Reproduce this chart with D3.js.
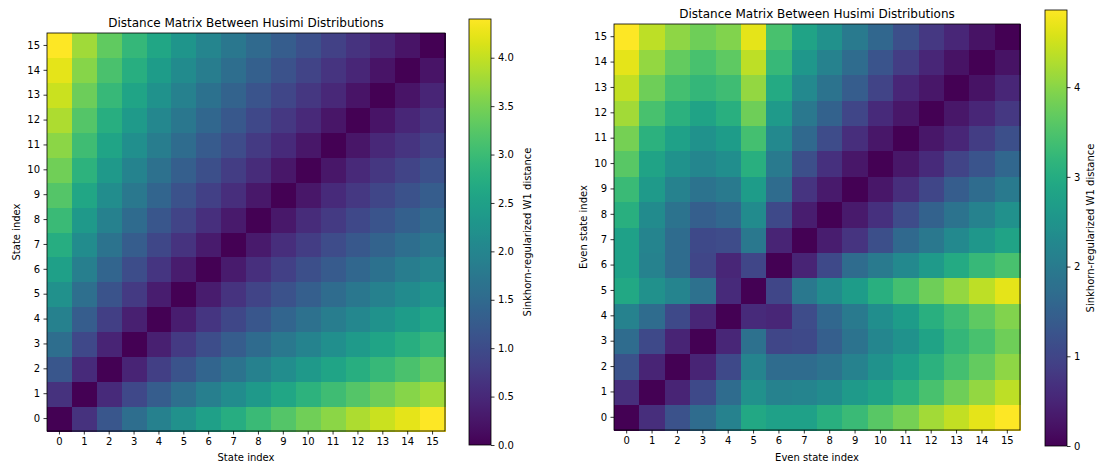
<!DOCTYPE html>
<html><head><meta charset="utf-8">
<script src="https://cdn.jsdelivr.net/npm/d3@7"></script>
<style>
body{margin:0;background:#fff}
svg{display:block}
text{font-family:"DejaVu Sans",sans-serif;fill:#000}
</style>
</head><body>
<svg id="chart" width="1097" height="464"></svg>
<script>
// ---------------- data ----------------
const stateLabels = ["0","1","2","3","4","5","6","7","8","9","10","11","12","13","14","15"];
const leftTicks = [0.0, 0.5, 1.0, 1.5, 2.0, 2.5, 3.0, 3.5, 4.0];
const rightTicks = [0, 1, 2, 3, 4];
const titleText = "Distance Matrix Between Husimi Distributions";
const colorbarLabel = "Sinkhorn-regularized W1 distance";
const leftAxisLabel = "State index";
const rightAxisLabel = "Even state index";

// rows = state index (y, 0 at bottom), columns = state index (x)
const leftMatrix = [
 [0.00,0.62,1.18,1.57,1.91,2.21,2.49,2.74,2.99,3.22,3.44,3.64,3.85,4.04,4.22,4.40],
 [0.62,0.00,0.52,0.95,1.28,1.59,1.88,2.13,2.37,2.61,2.82,3.03,3.23,3.42,3.60,3.78],
 [1.18,0.52,0.00,0.44,0.82,1.13,1.41,1.67,1.91,2.14,2.36,2.57,2.76,2.95,3.14,3.32],
 [1.57,0.95,0.44,0.00,0.39,0.74,1.02,1.28,1.52,1.76,1.97,2.18,2.38,2.57,2.75,2.93],
 [1.91,1.28,0.82,0.39,0.00,0.36,0.68,0.94,1.18,1.41,1.63,1.84,2.04,2.23,2.42,2.60],
 [2.21,1.59,1.13,0.74,0.36,0.00,0.33,0.64,0.88,1.11,1.32,1.54,1.74,1.92,2.11,2.29],
 [2.49,1.88,1.41,1.02,0.68,0.33,0.00,0.31,0.60,0.83,1.05,1.25,1.45,1.65,1.84,2.01],
 [2.74,2.13,1.67,1.28,0.94,0.64,0.31,0.00,0.30,0.57,0.79,1.00,1.19,1.39,1.57,1.75],
 [2.99,2.37,1.91,1.52,1.18,0.88,0.60,0.30,0.00,0.28,0.54,0.75,0.96,1.14,1.33,1.51],
 [3.22,2.61,2.14,1.76,1.41,1.11,0.83,0.57,0.28,0.00,0.27,0.52,0.72,0.92,1.11,1.28],
 [3.44,2.82,2.36,1.97,1.63,1.32,1.05,0.79,0.54,0.27,0.00,0.26,0.50,0.70,0.88,1.07],
 [3.64,3.03,2.57,2.18,1.84,1.54,1.25,1.00,0.75,0.52,0.26,0.00,0.25,0.49,0.67,0.85],
 [3.85,3.23,2.76,2.38,2.04,1.74,1.45,1.19,0.96,0.72,0.50,0.25,0.00,0.24,0.47,0.65],
 [4.04,3.42,2.95,2.57,2.23,1.92,1.65,1.39,1.14,0.92,0.70,0.49,0.24,0.00,0.24,0.46],
 [4.22,3.60,3.14,2.75,2.42,2.11,1.84,1.57,1.33,1.11,0.88,0.67,0.47,0.24,0.00,0.23],
 [4.40,3.78,3.32,2.93,2.60,2.29,2.01,1.75,1.51,1.28,1.07,0.85,0.65,0.46,0.23,0.00]
];

const rightMatrix = [
 [0.00,0.63,1.22,1.70,2.14,2.92,2.77,2.77,3.06,3.30,3.60,3.84,4.18,4.42,4.67,4.86],
 [0.63,0.00,0.49,1.07,1.70,2.43,2.14,2.19,2.33,2.62,2.82,3.11,3.45,3.79,4.08,4.37],
 [1.22,0.49,0.00,0.49,1.07,2.19,1.70,1.70,1.85,2.14,2.48,2.77,3.11,3.40,3.69,4.03],
 [1.70,1.07,0.49,0.00,0.53,1.80,1.02,1.07,1.46,1.85,2.24,2.48,2.82,3.21,3.45,3.79],
 [2.14,1.70,1.07,0.53,0.00,0.58,0.53,1.12,1.60,1.99,2.38,2.67,3.06,3.35,3.65,3.94],
 [2.92,2.43,2.19,1.80,0.58,0.00,1.02,1.94,2.33,2.67,3.06,3.40,3.79,4.08,4.37,4.67],
 [2.77,2.14,1.70,1.02,0.53,1.02,0.00,0.49,1.07,1.70,1.99,2.28,2.62,2.96,3.26,3.45],
 [2.77,2.19,1.70,1.07,1.12,1.94,0.49,0.00,0.39,0.73,1.17,1.65,1.94,2.28,2.58,2.82],
 [3.06,2.33,1.85,1.46,1.60,2.33,1.07,0.39,0.00,0.34,0.68,1.12,1.51,1.85,2.14,2.43],
 [3.30,2.62,2.14,1.85,1.99,2.67,1.70,0.73,0.34,0.00,0.29,0.63,1.02,1.41,1.70,1.99],
 [3.60,2.82,2.48,2.24,2.38,3.06,1.99,1.17,0.68,0.29,0.00,0.29,0.58,0.97,1.26,1.60],
 [3.84,3.11,2.77,2.48,2.67,3.40,2.28,1.65,1.12,0.63,0.29,0.00,0.29,0.53,0.87,1.17],
 [4.18,3.45,3.11,2.82,3.06,3.79,2.62,1.94,1.51,1.02,0.58,0.29,0.00,0.29,0.53,0.78],
 [4.42,3.79,3.40,3.21,3.35,4.08,2.96,2.28,1.85,1.41,0.97,0.53,0.29,0.00,0.24,0.53],
 [4.67,4.08,3.69,3.45,3.65,4.37,3.26,2.58,2.14,1.70,1.26,0.87,0.53,0.24,0.00,0.24],
 [4.86,4.37,4.03,3.79,3.94,4.67,3.45,2.82,2.43,1.99,1.60,1.17,0.78,0.53,0.24,0.00]
];

// ---------------- drawing ----------------
const svg = d3.select("#chart");
svg.append("rect").attr("width",1097).attr("height",464).attr("fill","#fff");
const defs = svg.append("defs");

function drawPanel(cfg){
  const vmax = d3.max(cfg.matrix.flat());
  const color = d3.scaleSequential(d3.interpolateViridis).domain([0, vmax]);
  const x = d3.scaleBand().domain(stateLabels).range([cfg.x0, cfg.x1]).padding(0);
  const y = d3.scaleBand().domain(stateLabels).range([cfg.y1, cfg.y0]).padding(0);
  const g = svg.append("g");

  const cells = [];
  cfg.matrix.forEach((row, i) => row.forEach((v, j) => cells.push({i, j, v})));
  g.append("g").selectAll("rect").data(cells).join("rect")
    .attr("x", d => x(stateLabels[d.j]))
    .attr("y", d => y(stateLabels[d.i]))
    .attr("width", x.bandwidth() + 0.5)
    .attr("height", y.bandwidth() + 0.5)
    .attr("fill", d => color(d.v))
    .attr("shape-rendering", "crispEdges");

  const xAxis = g.append("g").attr("transform", `translate(0,${cfg.y1})`)
    .call(d3.axisBottom(x).tickSize(3.5).tickPadding(3.5));
  const yAxis = g.append("g").attr("transform", `translate(${cfg.x0},0)`)
    .call(d3.axisLeft(y).tickSize(3.5).tickPadding(3.5));
  [xAxis, yAxis].forEach(a => {
    a.select(".domain").remove();
    a.selectAll("line").attr("stroke", "#000").attr("stroke-width", 0.8);
    a.selectAll("text").attr("font-size", 10).attr("font-family", "DejaVu Sans").attr("fill", "#000");
  });

  g.append("rect").attr("x", cfg.x0).attr("y", cfg.y0)
    .attr("width", cfg.x1 - cfg.x0).attr("height", cfg.y1 - cfg.y0)
    .attr("fill", "none").attr("stroke", "#000").attr("stroke-width", 0.8);

  g.append("text").attr("x", (cfg.x0 + cfg.x1) / 2).attr("y", cfg.y0 - 6)
    .attr("text-anchor", "middle").attr("font-size", 12).text(titleText);
  g.append("text").attr("x", (cfg.x0 + cfg.x1) / 2).attr("y", 461)
    .attr("text-anchor", "middle").attr("font-size", 10).text(cfg.axisLabel);
  g.append("text").attr("transform", `translate(${cfg.ylabX},${(cfg.y0 + cfg.y1) / 2}) rotate(-90)`)
    .attr("text-anchor", "middle").attr("font-size", 10).text(cfg.axisLabel);

  // colorbar
  const gid = "grad" + cfg.id;
  const grad = defs.append("linearGradient").attr("id", gid)
    .attr("x1", 0).attr("y1", 1).attr("x2", 0).attr("y2", 0);
  d3.range(0, 1.0001, 0.02).forEach(t => {
    grad.append("stop").attr("offset", t).attr("stop-color", d3.interpolateViridis(t));
  });
  const cb = cfg.cb;
  g.append("rect").attr("x", cb.x0).attr("y", cb.y0)
    .attr("width", cb.x1 - cb.x0).attr("height", cb.y1 - cb.y0)
    .attr("fill", `url(#${gid})`);
  const cscale = d3.scaleLinear().domain([0, vmax]).range([cb.y1, cb.y0]);
  const cAxis = g.append("g").attr("transform", `translate(${cb.x1},0)`)
    .call(d3.axisRight(cscale).tickValues(cfg.ticks).tickFormat(cfg.fmt).tickSize(3.5).tickPadding(3.5));
  cAxis.select(".domain").remove();
  cAxis.selectAll("line").attr("stroke", "#000").attr("stroke-width", 0.8);
  cAxis.selectAll("text").attr("font-size", 10).attr("font-family", "DejaVu Sans").attr("fill", "#000");
  g.append("rect").attr("x", cb.x0).attr("y", cb.y0)
    .attr("width", cb.x1 - cb.x0).attr("height", cb.y1 - cb.y0)
    .attr("fill", "none").attr("stroke", "#000").attr("stroke-width", 0.8);
  g.append("text").attr("transform", `translate(${cb.labX},${(cb.y0 + cb.y1) / 2}) rotate(-90)`)
    .attr("text-anchor", "middle").attr("font-size", 10).text(colorbarLabel);
}

drawPanel({id: "L", matrix: leftMatrix, x0: 47, x1: 445, y0: 33, y1: 431, ylabX: 20,
  axisLabel: leftAxisLabel, ticks: leftTicks, fmt: d3.format(".1f"),
  cb: {x0: 469, x1: 491, y0: 19, y1: 445, labX: 531}});
drawPanel({id: "R", matrix: rightMatrix, x0: 614, x1: 1020, y0: 24, y1: 430, ylabX: 587,
  axisLabel: rightAxisLabel, ticks: rightTicks, fmt: d3.format("d"),
  cb: {x0: 1045, x1: 1067, y0: 10, y1: 446, labX: 1094}});
</script>
</body></html>
